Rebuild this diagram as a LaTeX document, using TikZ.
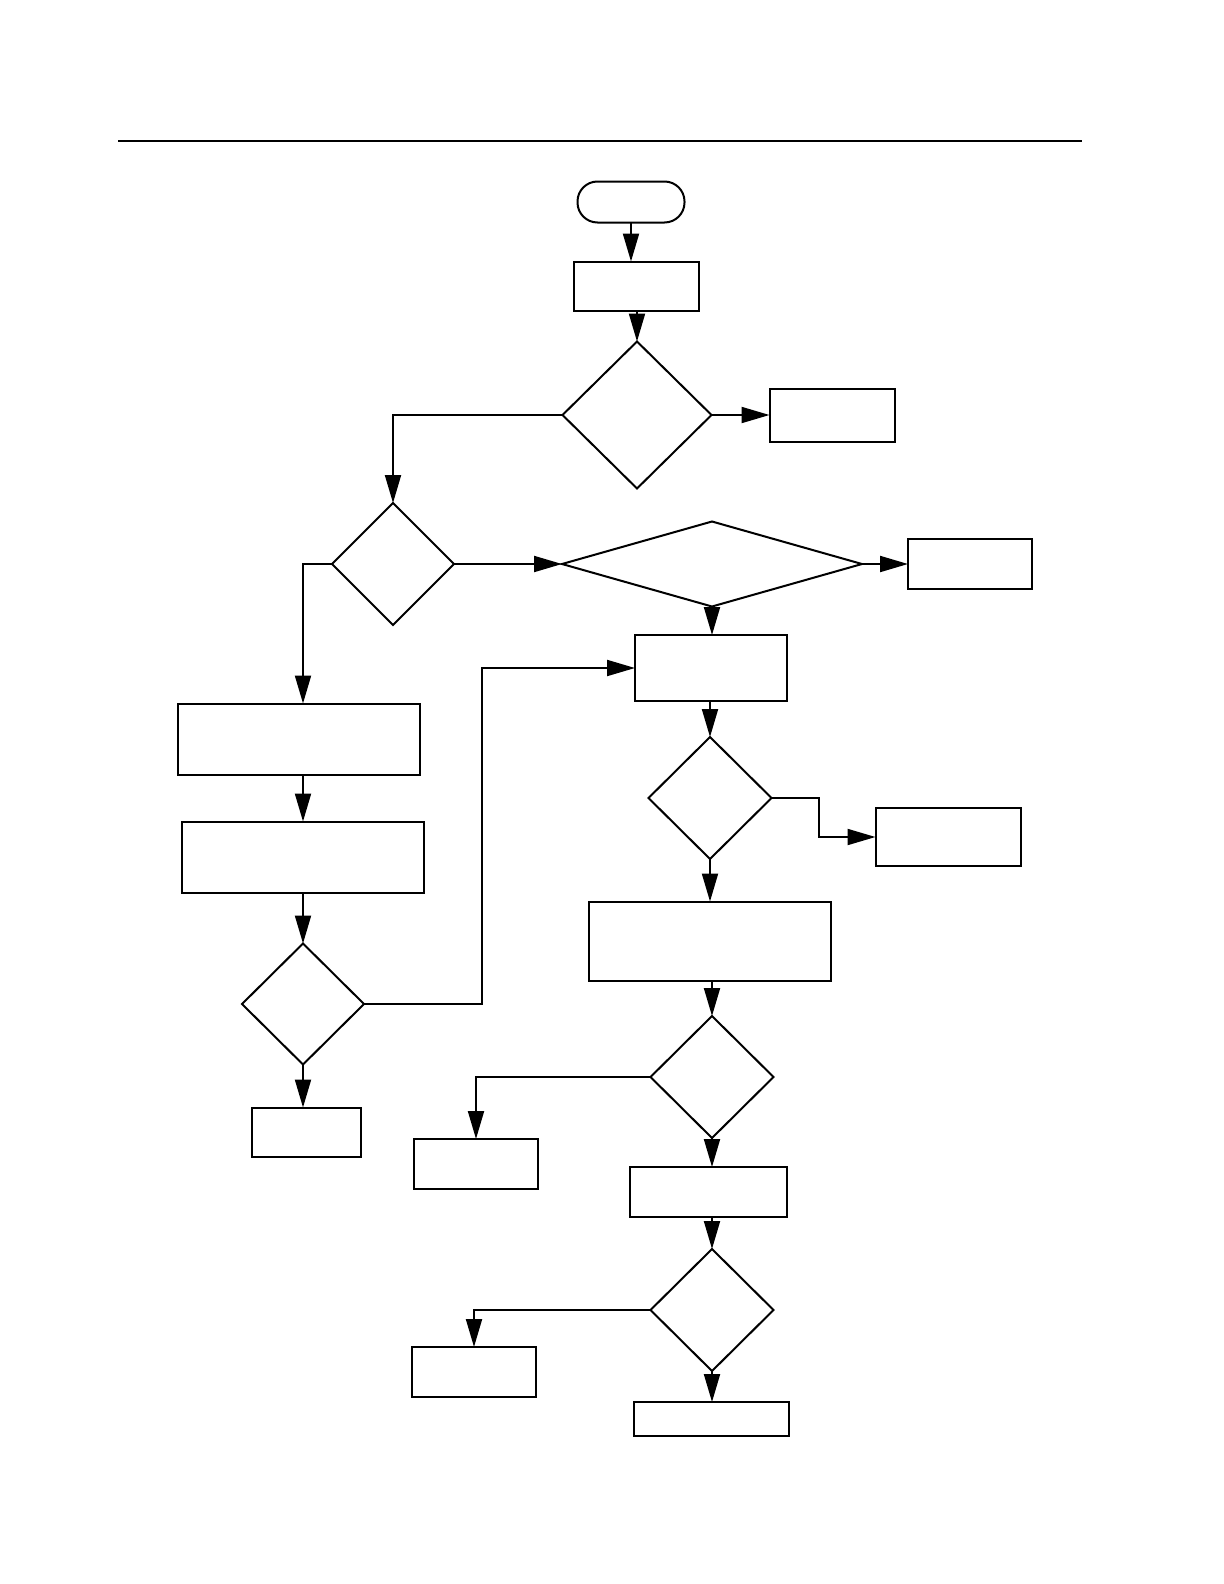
\documentclass[tikz,border=0pt]{standalone}
\usepackage{tikz}
\usetikzlibrary{arrows.meta,shapes.geometric}

\begin{document}
\begin{tikzpicture}[x=0.5pt, y=-0.5pt, line width=1pt,
  box/.style={draw, rectangle, inner sep=0pt, outer sep=0pt},
  decision/.style={draw, diamond, inner sep=0pt, outer sep=0pt},
  terminal/.style={draw, rectangle, rounded corners=10pt, inner sep=0pt, outer sep=0pt},
  flow/.style={-{Triangle[length=14pt, width=8pt]}}]
\useasboundingbox (0,0) rectangle (1224,1584);

% header rule
\draw (118,141) -- (1082,141);

% main column
\node[terminal, minimum width=53.5pt, minimum height=20.5pt] (start) at (631,202) {};
\node[box, minimum width=62.5pt, minimum height=24.5pt] (prep) at (636,286) {};
\node[decision, minimum width=74.5pt, minimum height=73.5pt] (dec1) at (637,415) {};
\node[box, minimum width=62.5pt, minimum height=26.5pt] (out1) at (832,415) {};
\node[decision, minimum width=61pt, minimum height=61pt] (dec2) at (393,564) {};
\node[decision, minimum width=150pt, minimum height=42.5pt] (dec3) at (712,564) {};
\node[box, minimum width=62pt, minimum height=25pt] (out2) at (970,564) {};
\node[box, minimum width=76pt, minimum height=33pt] (merge) at (711,668) {};

% left branch
\node[box, minimum width=121pt, minimum height=35.5pt] (stepA) at (299,739) {};
\node[box, minimum width=121pt, minimum height=35.5pt] (stepB) at (303,857) {};
\node[decision, minimum width=61pt, minimum height=60.5pt] (dec4) at (303,1004) {};
\node[box, minimum width=54.5pt, minimum height=24.5pt] (end1) at (306,1132) {};
\coordinate (bendL) at (482,0);

% lower column
\node[decision, minimum width=61.5pt, minimum height=61pt] (dec5) at (710,798) {};
\node[box, minimum width=72.5pt, minimum height=29pt] (out3) at (948,837) {};
\coordinate (bendR) at (819,0);
\node[box, minimum width=121pt, minimum height=39.5pt] (proc) at (710,941) {};
\node[decision, minimum width=61.5pt, minimum height=61pt] (dec6) at (712,1077) {};
\node[box, minimum width=62pt, minimum height=25pt] (out4) at (476,1164) {};
\node[box, minimum width=78.5pt, minimum height=25pt] (stepC) at (708,1192) {};
\node[decision, minimum width=61.5pt, minimum height=61pt] (dec7) at (712,1310) {};
\node[box, minimum width=62pt, minimum height=25pt] (out5) at (474,1372) {};
\node[box, minimum width=77.5pt, minimum height=17pt] (final) at (711,1419) {};

% connectors
\draw[flow] (start.south) -- (start.south |- prep.north);
\draw[flow] (dec1.north |- prep.south) -- (dec1.north);
\draw[flow] (dec1.east) -- (out1.west);
\draw[flow] (dec1.west) -| (dec2.north);
\draw[flow] (dec2.east) -- (dec3.west);
\draw[flow] (dec3.east) -- (out2.west);
\draw[flow] (dec3.south) -- (dec3.south |- merge.north);
\draw[flow] (dec2.west) -| (stepB.north |- stepA.north);
\draw[flow] (stepB.north |- stepA.south) -- (stepB.north);
\draw[flow] (stepB.south) -- (dec4.north);
\draw[flow] (dec4.east) -| (bendL |- merge.west) -- (merge.west);
\draw[flow] (dec4.south) -- (dec4.south |- end1.north);
\draw[flow] (dec5.north |- merge.south) -- (dec5.north);
\draw[flow] (dec5.east) -| (bendR |- out3.west) -- (out3.west);
\draw[flow] (dec5.south) -- (proc.north);
\draw[flow] (dec6.north |- proc.south) -- (dec6.north);
\draw[flow] (dec6.west) -| (out4.north);
\draw[flow] (dec6.south) -- (dec6.south |- stepC.north);
\draw[flow] (dec7.north |- stepC.south) -- (dec7.north);
\draw[flow] (dec7.west) -| (out5.north);
\draw[flow] (dec7.south) -- (dec7.south |- final.north);
\end{tikzpicture}
\end{document}
